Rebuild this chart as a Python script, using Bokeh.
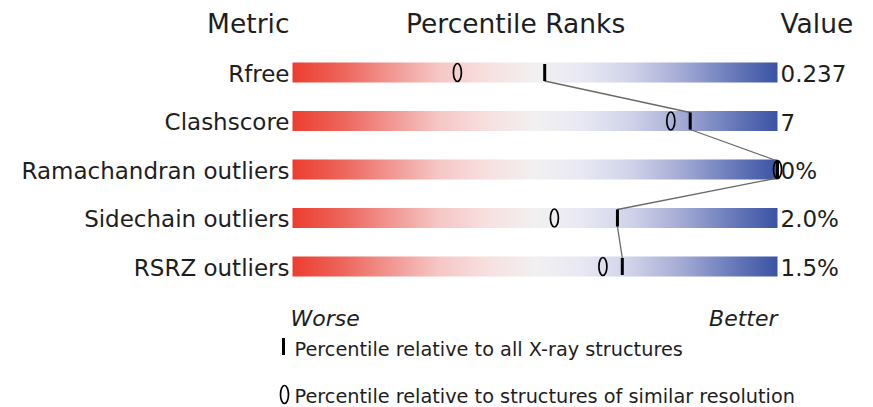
import numpy as np
from bokeh.plotting import figure
from bokeh.models import Range1d
from bokeh.embed import file_html
from bokeh.resources import INLINE
from bokeh.core.properties import value

# ---- data ----
metrics = ["Rfree", "Clashscore", "Ramachandran outliers", "Sidechain outliers", "RSRZ outliers"]
values = ["0.237", "7", "0%", "2.0%", "1.5%"]
pct_all = [52, 82, 100, 67, 68]      # percentile relative to all X-ray structures
pct_res = [34, 78, 100, 54, 64]      # percentile relative to similar resolution
headers = ["Metric", "Percentile Ranks", "Value"]
legend_texts = ["Percentile relative to all X-ray structures",
                "Percentile relative to structures of similar resolution"]

# ---- layout ----
W, H = 873, 407
BAR_L, BAR_R = 292, 777
ROW0, ROW_STEP = 72, 48.5
SCALE = (BAR_R - BAR_L) / 100.0
BH = 20 / ROW_STEP
TH = 17 / ROW_STEP
FONT = "DejaVu Sans"
TXT = "#1e1e1e"

def ypx(px):
    return (px - ROW0) / ROW_STEP

def xpx(px):
    return (px - BAR_L) / SCALE

p = figure(width=W, height=H,
           x_range=Range1d(-BAR_L / SCALE, (W - BAR_L) / SCALE),
           y_range=Range1d((H - ROW0) / ROW_STEP, -ROW0 / ROW_STEP),
           output_backend="svg", toolbar_location=None, min_border=0,
           x_axis_location=None, y_axis_location=None)
p.grid.visible = False
p.outline_line_color = None
p.background_fill_color = "white"
p.border_fill_color = "white"

# gradient stops (position, rgb)
stops = [(0.00, (236, 62, 48)), (0.10, (237, 100, 90)), (0.20, (241, 150, 145)),
         (0.30, (246, 198, 197)), (0.40, (247, 224, 224)), (0.50, (242, 240, 240)),
         (0.60, (232, 232, 243)), (0.70, (208, 210, 233)), (0.80, (165, 172, 213)),
         (0.90, (110, 125, 188)), (1.00, (58, 84, 164))]
sp = np.array([s[0] for s in stops])
sc = np.array([s[1] for s in stops], dtype=float)

M = BAR_R - BAR_L
t = (np.arange(M) + 0.5) / M
img = np.zeros((1, M), dtype=np.uint32)
view = img.view(dtype=np.uint8).reshape((1, M, 4))
for k in range(3):
    view[0, :, k] = np.round(np.interp(t, sp, sc[:, k])).astype(np.uint8)
view[0, :, 3] = 255

rows = list(range(len(metrics)))
p.image_rgba(image=[img] * len(metrics), x=[0] * len(metrics),
             y=[i - BH / 2 for i in rows], dw=[100] * len(metrics), dh=[BH] * len(metrics))

# connector line through the "all structures" ticks
lx, ly = [], []
for i, v in enumerate(pct_all):
    lx += [v, v]; ly += [i - TH / 2, i + TH / 2]
p.line(lx, ly, line_color="#6a6a6a", line_width=1.3)

# markers
p.rect(x=pct_all, y=rows, width=3, height=17, width_units="screen", height_units="screen",
       fill_color="black", line_color=None)
p.ellipse(x=pct_res, y=rows, width=8, height=18, width_units="screen", height_units="screen",
          fill_color=None, line_color="black", line_width=1.7)

# headers
p.text(x=[0, 46, 100], y=[-1, -1, -1], text=headers, text_align=["right", "center", "left"],
       x_offset=[-3, 0, 3], y_offset=-0.5, text_baseline="alphabetic",
       text_font=value(FONT), text_font_size="26.5px", text_color=TXT)

# row labels and values
p.text(x=[0] * len(metrics), y=rows, text=metrics, text_align="right", x_offset=-3, y_offset=1,
       text_baseline="alphabetic", text_font=value(FONT), text_font_size="23px", text_color=TXT)
p.text(x=[100] * len(values), y=rows, text=values, text_align="left", x_offset=3, y_offset=1,
       text_baseline="alphabetic", text_font=value(FONT), text_font_size="23px", text_color=TXT)

# worse / better
p.text(x=[0, 100], y=[ypx(318)] * 2, text=["Worse", "Better"], text_align=["left", "right"],
       x_offset=[-2, 0], text_baseline="alphabetic", text_font=value(FONT),
       text_font_style="italic", text_font_size="22px", text_color=TXT)

# legend
p.rect(x=[xpx(283)], y=[ypx(346)], width=3, height=17, width_units="screen", height_units="screen",
       fill_color="black", line_color=None)
p.ellipse(x=[xpx(284)], y=[ypx(394)], width=8, height=18, width_units="screen", height_units="screen",
          fill_color=None, line_color="black", line_width=1.7)
p.text(x=[xpx(294)] * 2, y=[ypx(349), ypx(396)], text=legend_texts, text_align="left",
       text_baseline="alphabetic", text_font=value(FONT), text_font_size="19.3px", text_color=TXT)

open("out.html", "w").write(file_html(p, INLINE))
